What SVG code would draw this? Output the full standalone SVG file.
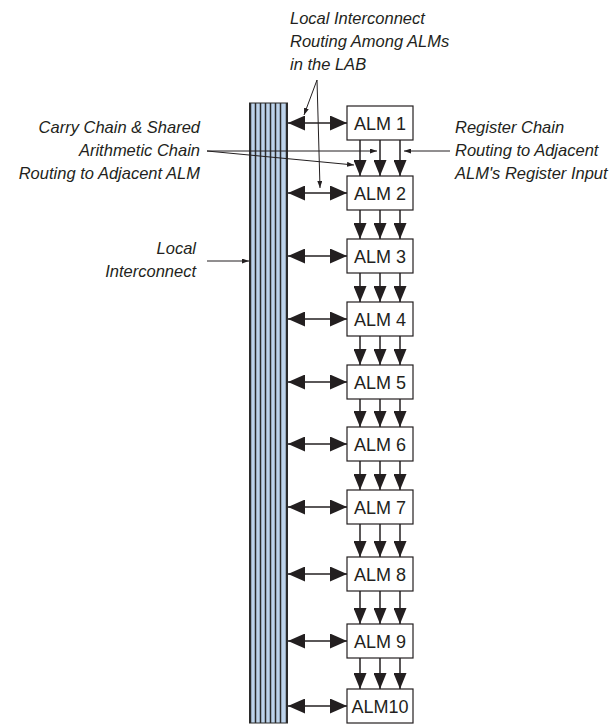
<svg xmlns="http://www.w3.org/2000/svg" width="614" height="725" viewBox="0 0 614 725">
<style>
.lbl{font-family:"Liberation Sans",Arial,sans-serif;font-style:italic;font-size:16.5px;fill:#231f20}
.alm{font-family:"Liberation Sans",Arial,sans-serif;font-size:18px;fill:#231f20;text-anchor:middle}
.box{fill:#fff;stroke:#231f20;stroke-width:1.2}
.big{stroke:#231f20;stroke-width:1.5;fill:none}
.thin{stroke:#231f20;stroke-width:1;fill:none}
.stripe{stroke:#2b2b2b;stroke-width:1.5}
</style>
<defs>
<marker id="bh" refX="17" refY="7.5" markerWidth="17" markerHeight="15" markerUnits="userSpaceOnUse" orient="auto-start-reverse"><path d="M0,0 L17,7.5 L0,15 z" fill="#231f20"/></marker>
<marker id="dh" refX="16" refY="6.5" markerWidth="16" markerHeight="13" markerUnits="userSpaceOnUse" orient="auto"><path d="M0,0 L16,6.5 L0,13 z" fill="#231f20"/></marker>
<marker id="sh" refX="7" refY="2.5" markerWidth="7" markerHeight="5" markerUnits="userSpaceOnUse" orient="auto"><path d="M0,0 L7,2.5 L0,5 z" fill="#231f20"/></marker>
</defs>

<g id="bus">
<rect x="249.5" y="103" width="38" height="620" fill="#bdd3eb" stroke="#2b2b2b" stroke-width="1"/>
<line class="stripe" x1="250.5" y1="103" x2="250.5" y2="723"/>
<line class="stripe" x1="255.5" y1="103" x2="255.5" y2="723"/>
<line class="stripe" x1="260.5" y1="103" x2="260.5" y2="723"/>
<line class="stripe" x1="265.5" y1="103" x2="265.5" y2="723"/>
<line class="stripe" x1="270.5" y1="103" x2="270.5" y2="723"/>
<line class="stripe" x1="275.5" y1="103" x2="275.5" y2="723"/>
<line class="stripe" x1="280.5" y1="103" x2="280.5" y2="723"/>
<line class="stripe" x1="286.5" y1="103" x2="286.5" y2="723" stroke-width="3"/>
</g>

<g id="alm1"><rect class="box" x="347" y="106" width="66" height="34"/><text class="alm" x="380" y="129.5">ALM 1</text></g>
<g id="alm2"><rect class="box" x="347" y="176" width="66" height="34"/><text class="alm" x="380" y="199.5">ALM 2</text></g>
<g id="alm3"><rect class="box" x="347" y="239" width="66" height="34"/><text class="alm" x="380" y="262.5">ALM 3</text></g>
<g id="alm4"><rect class="box" x="347" y="302" width="66" height="34"/><text class="alm" x="380" y="325.5">ALM 4</text></g>
<g id="alm5"><rect class="box" x="347" y="365" width="66" height="34"/><text class="alm" x="380" y="388.5">ALM 5</text></g>
<g id="alm6"><rect class="box" x="347" y="427" width="66" height="34"/><text class="alm" x="380" y="450.5">ALM 6</text></g>
<g id="alm7"><rect class="box" x="347" y="490" width="66" height="34"/><text class="alm" x="380" y="513.5">ALM 7</text></g>
<g id="alm8"><rect class="box" x="347" y="557" width="66" height="34"/><text class="alm" x="380" y="580.5">ALM 8</text></g>
<g id="alm9"><rect class="box" x="347" y="624" width="66" height="34"/><text class="alm" x="380" y="647.5">ALM 9</text></g>
<g id="alm10"><rect class="box" x="347" y="689" width="66" height="34"/><text class="alm" x="380" y="712.5">ALM10</text></g>

<g id="label-local-routing">
<text class="lbl" x="290" y="24">Local Interconnect</text>
<text class="lbl" x="290" y="47">Routing Among ALMs</text>
<text class="lbl" x="290" y="70">in the LAB</text>
</g>
<g id="label-carry">
<text class="lbl" x="200" y="133" text-anchor="end">Carry Chain &amp; Shared</text>
<text class="lbl" x="200" y="156" text-anchor="end">Arithmetic Chain</text>
<text class="lbl" x="200" y="179" text-anchor="end">Routing to Adjacent ALM</text>
</g>
<g id="label-register">
<text class="lbl" x="455" y="133">Register Chain</text>
<text class="lbl" x="455" y="156">Routing to Adjacent</text>
<text class="lbl" x="455" y="179">ALM's Register Input</text>
</g>
<g id="label-local">
<text class="lbl" x="196" y="254" text-anchor="end">Local</text>
<text class="lbl" x="196" y="277" text-anchor="end">Interconnect</text>
</g>

<g id="connectors">
<line class="big" x1="288" y1="123" x2="347" y2="123" marker-start="url(#bh)" marker-end="url(#bh)"/>
<line class="big" x1="288" y1="193" x2="347" y2="193" marker-start="url(#bh)" marker-end="url(#bh)"/>
<line class="big" x1="288" y1="256" x2="347" y2="256" marker-start="url(#bh)" marker-end="url(#bh)"/>
<line class="big" x1="288" y1="319" x2="347" y2="319" marker-start="url(#bh)" marker-end="url(#bh)"/>
<line class="big" x1="288" y1="382" x2="347" y2="382" marker-start="url(#bh)" marker-end="url(#bh)"/>
<line class="big" x1="288" y1="444" x2="347" y2="444" marker-start="url(#bh)" marker-end="url(#bh)"/>
<line class="big" x1="288" y1="507" x2="347" y2="507" marker-start="url(#bh)" marker-end="url(#bh)"/>
<line class="big" x1="288" y1="574" x2="347" y2="574" marker-start="url(#bh)" marker-end="url(#bh)"/>
<line class="big" x1="288" y1="641" x2="347" y2="641" marker-start="url(#bh)" marker-end="url(#bh)"/>
<line class="big" x1="288" y1="706" x2="347" y2="706" marker-start="url(#bh)" marker-end="url(#bh)"/>

<g id="chain-arrows">
<line class="big" x1="360" y1="140" x2="360" y2="176" marker-end="url(#dh)"/>
<line class="big" x1="380" y1="140" x2="380" y2="176" marker-end="url(#dh)"/>
<line class="big" x1="400" y1="140" x2="400" y2="176" marker-end="url(#dh)"/>
<line class="big" x1="360" y1="210" x2="360" y2="239" marker-end="url(#dh)"/>
<line class="big" x1="380" y1="210" x2="380" y2="239" marker-end="url(#dh)"/>
<line class="big" x1="400" y1="210" x2="400" y2="239" marker-end="url(#dh)"/>
<line class="big" x1="360" y1="273" x2="360" y2="302" marker-end="url(#dh)"/>
<line class="big" x1="380" y1="273" x2="380" y2="302" marker-end="url(#dh)"/>
<line class="big" x1="400" y1="273" x2="400" y2="302" marker-end="url(#dh)"/>
<line class="big" x1="360" y1="336" x2="360" y2="365" marker-end="url(#dh)"/>
<line class="big" x1="380" y1="336" x2="380" y2="365" marker-end="url(#dh)"/>
<line class="big" x1="400" y1="336" x2="400" y2="365" marker-end="url(#dh)"/>
<line class="big" x1="360" y1="399" x2="360" y2="427" marker-end="url(#dh)"/>
<line class="big" x1="380" y1="399" x2="380" y2="427" marker-end="url(#dh)"/>
<line class="big" x1="400" y1="399" x2="400" y2="427" marker-end="url(#dh)"/>
<line class="big" x1="360" y1="461" x2="360" y2="490" marker-end="url(#dh)"/>
<line class="big" x1="380" y1="461" x2="380" y2="490" marker-end="url(#dh)"/>
<line class="big" x1="400" y1="461" x2="400" y2="490" marker-end="url(#dh)"/>
<line class="big" x1="360" y1="524" x2="360" y2="557" marker-end="url(#dh)"/>
<line class="big" x1="380" y1="524" x2="380" y2="557" marker-end="url(#dh)"/>
<line class="big" x1="400" y1="524" x2="400" y2="557" marker-end="url(#dh)"/>
<line class="big" x1="360" y1="591" x2="360" y2="624" marker-end="url(#dh)"/>
<line class="big" x1="380" y1="591" x2="380" y2="624" marker-end="url(#dh)"/>
<line class="big" x1="400" y1="591" x2="400" y2="624" marker-end="url(#dh)"/>
<line class="big" x1="360" y1="658" x2="360" y2="689" marker-end="url(#dh)"/>
<line class="big" x1="380" y1="658" x2="380" y2="689" marker-end="url(#dh)"/>
<line class="big" x1="400" y1="658" x2="400" y2="689" marker-end="url(#dh)"/>
</g>

<line class="thin" x1="317" y1="80" x2="304" y2="115" marker-end="url(#sh)"/>
<line class="thin" x1="317" y1="80" x2="320" y2="188" marker-end="url(#sh)"/>
<line class="thin" x1="207" y1="151" x2="377" y2="151" marker-end="url(#sh)"/>
<line class="thin" x1="207" y1="151" x2="354" y2="165" marker-end="url(#sh)"/>
<line class="thin" x1="450" y1="151" x2="404" y2="151" marker-end="url(#sh)"/>
<line class="thin" x1="207" y1="261" x2="249" y2="261" marker-end="url(#sh)"/>
</g>
</svg>
